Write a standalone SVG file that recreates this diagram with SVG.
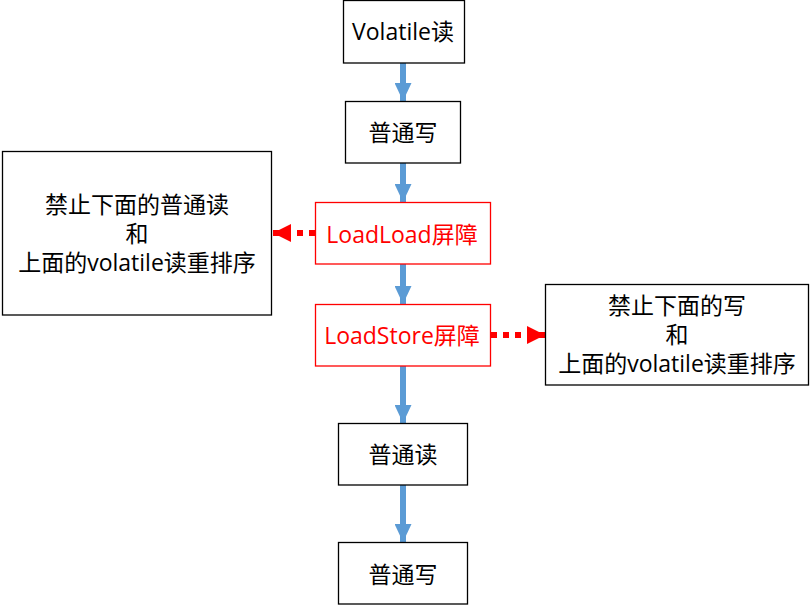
<svg xmlns="http://www.w3.org/2000/svg" width="812" height="605" viewBox="0 0 812 605">
<defs>
<style>
.box{fill:#fff;stroke:#000;stroke-width:1.3}
.rbox{fill:#fff;stroke:#ff0000;stroke-width:1.3}
text{font-family:"Open Sans","Noto Sans CJK SC",sans-serif;font-size:23px;text-anchor:middle;dominant-baseline:central;fill:#000}
.red{fill:#ff0000}
.flow{stroke:#5b9bd5;stroke-width:6;fill:none}
.dot{stroke:#ff0000;stroke-width:6;stroke-dasharray:6 6;fill:none}
</style>
<marker id="ab" markerUnits="userSpaceOnUse" markerWidth="18" markerHeight="17" refX="18" refY="8.5" orient="auto" viewBox="0 0 18 17"><path d="M0,0 L18,8.5 L0,17 Z" fill="#5b9bd5"/></marker>
<marker id="ar" markerUnits="userSpaceOnUse" markerWidth="18" markerHeight="18" refX="18" refY="9" orient="auto" viewBox="0 0 18 18"><path d="M0,0 L18,9 L0,18 Z" fill="#ff0000"/></marker>
</defs>
<g id="connectors">
<line class="flow" x1="403" y1="63" x2="403" y2="101" marker-end="url(#ab)"/>
<line class="flow" x1="403" y1="163" x2="403" y2="202" marker-end="url(#ab)"/>
<line class="flow" x1="403" y1="264" x2="403" y2="304" marker-end="url(#ab)"/>
<line class="flow" x1="403" y1="366" x2="403" y2="423" marker-end="url(#ab)"/>
<line class="flow" x1="403" y1="485" x2="403" y2="542" marker-end="url(#ab)"/>
<line class="dot" x1="315" y1="233" x2="273" y2="233" marker-end="url(#ar)"/>
<line class="dot" x1="491" y1="335" x2="545" y2="335" marker-end="url(#ar)"/>
</g>
<g id="n1"><rect class="box" x="343.5" y="0.5" width="121" height="62.5"/><text x="403" y="31">Volatile读</text></g>
<g id="n2"><rect class="box" x="345.5" y="101.5" width="115" height="61.5"/><text x="403" y="132">普通写</text></g>
<g id="n3"><rect class="rbox" x="315.5" y="202.5" width="175" height="61.5"/><text class="red" x="402" y="234">LoadLoad屏障</text></g>
<g id="n4"><rect class="rbox" x="315.5" y="304.5" width="175" height="61.5"/><text class="red" x="402" y="335">LoadStore屏障</text></g>
<g id="n5"><rect class="box" x="338.5" y="423.5" width="129" height="61.5"/><text x="403" y="454">普通读</text></g>
<g id="n6"><rect class="box" x="338.5" y="542.5" width="129" height="61.5"/><text x="403" y="574">普通写</text></g>
<g id="note1"><rect class="box" x="2.5" y="151.5" width="269" height="163.5"/>
<text x="137" y="204">禁止下面的普通读</text><text x="137" y="233">和</text><text x="137" y="262">上面的volatile读重排序</text></g>
<g id="note2"><rect class="box" x="545.5" y="284.5" width="263" height="100.5"/>
<text x="677" y="305">禁止下面的写</text><text x="677" y="334">和</text><text x="677" y="363">上面的volatile读重排序</text></g>
</svg>
